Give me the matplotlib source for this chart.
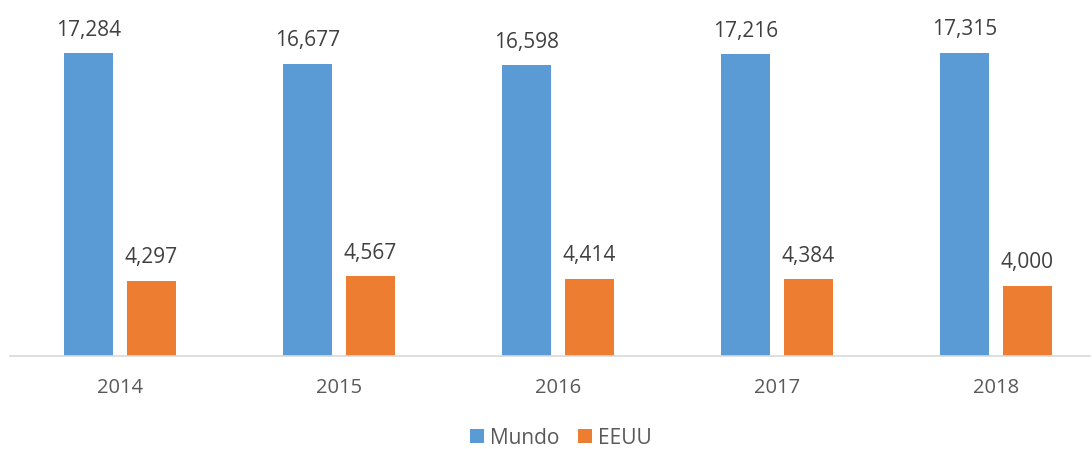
import numpy as np
import matplotlib.pyplot as plt

years = ["2014", "2015", "2016", "2017", "2018"]
mundo = [17284, 16677, 16598, 17216, 17315]
eeuu = [4297, 4567, 4414, 4384, 4000]

plt.rcParams["font.family"] = ["Open Sans", "DejaVu Sans"]
text_color = "#595959"

fig = plt.figure(figsize=(10.92, 4.49), dpi=100)
ax = fig.add_axes([10 / 1092, (449 - 356) / 449, 1080 / 1092, 346 / 449])

x = np.arange(len(years))
width = 0.224
offset = 0.143
b1 = ax.bar(x - offset, mundo, width, color="#5B9BD5", label="Mundo")
b2 = ax.bar(x + offset, eeuu, width, color="#ED7D31", label="EEUU")

for bars, vals in [(b1, mundo), (b2, eeuu)]:
    for rect, v in zip(bars, vals):
        ax.annotate(f"{v:,}", (rect.get_x() + rect.get_width() / 2, v),
                    xytext=(0, 16.5), textcoords="offset points",
                    ha="center", va="center", fontsize=15, color="#404040")

ax.set_xlim(-0.502, 4.429)
ax.set_ylim(0, 19740)
ax.set_xticks(x)
ax.set_xticklabels(years, fontsize=14.5, color=text_color)
ax.tick_params(axis="x", length=0, pad=16)
ax.set_yticks([])
for s in ["top", "right", "left"]:
    ax.spines[s].set_visible(False)
ax.spines["bottom"].set_color("#D9D9D9")
ax.spines["bottom"].set_linewidth(1.2)

fig.legend(loc="center", bbox_to_anchor=(561 / 1092, 1 - 438 / 449), ncol=2,
           frameon=False, fontsize=15, labelcolor=text_color,
           handlelength=0.65, handleheight=0.65, handletextpad=0.3,
           columnspacing=0.9)

fig.savefig("out.png", dpi=100)
